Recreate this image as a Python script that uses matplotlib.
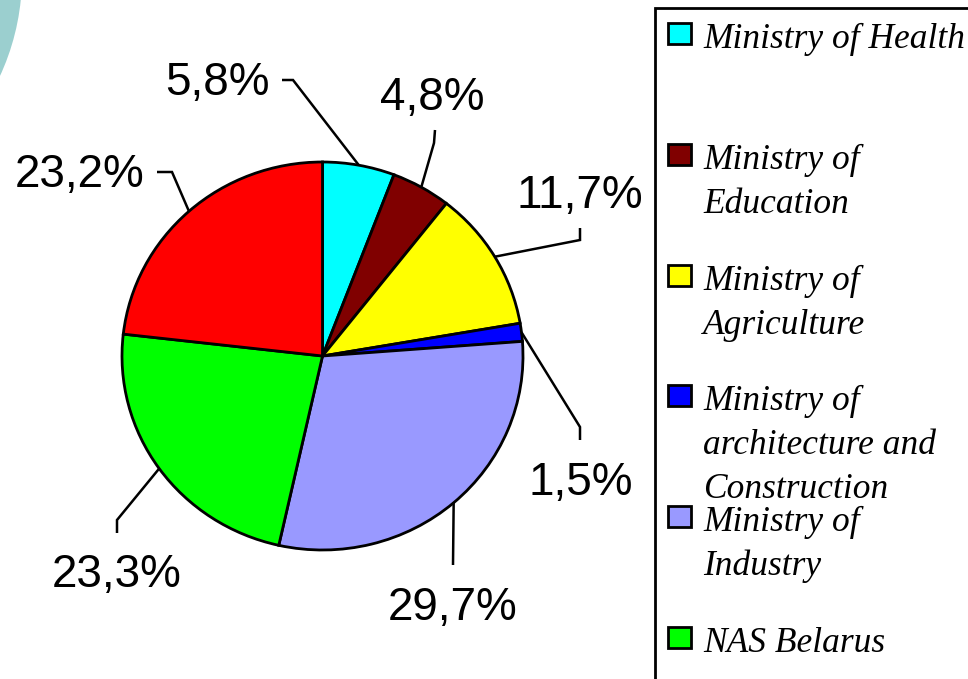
import matplotlib
matplotlib.use("Agg")
import matplotlib.pyplot as plt
import matplotlib.patches as mpatches
import numpy as np

# ---------------- data ----------------
categories = ["Ministry of Health", "Ministry of Education", "Ministry of Agriculture",
              "Ministry of architecture and Construction", "Ministry of Industry",
              "NAS Belarus", "Other"]
values = [5.8, 4.8, 11.7, 1.5, 29.7, 23.3, 23.2]
colors = ["#00FFFF", "#800000", "#FFFF00", "#0000FF", "#9999FF", "#00FF00", "#FF0000"]
legend_labels = ["Ministry of Health", "Ministry of\nEducation", "Ministry of\nAgriculture",
                 "Ministry of\narchitecture and\nConstruction", "Ministry of\nIndustry",
                 "NAS Belarus"]

# ---------------- layout (pixel coordinates) ----------------
W, H = 968, 679
CX, CY, RX, RY = 322.5, 356.0, 200.5, 194.0
# label text (center x, baseline y)
label_xy = [(217, 95), (432, 110), (580, 208), (581, 495), (453, 620), (117, 587), (80, 187)]
# leader line elbow and tail
elbow_xy = [(293, 80), (434, 143), (580, 240), (580, 427), (453, 565), (117, 520), (172, 172)]
tail_xy = [(282, 80), (435, 130), (580, 228), (580, 440), (453, 565), (117, 533), (157, 172)]

fig = plt.figure(figsize=(W / 100, H / 100), dpi=100)
ax = fig.add_axes([0, 0, 1, 1])


def to_data(px, py):
    return ((px - CX) / RX, (CY - py) / RY)


def to_fig(px, py):
    return (px / W, 1 - py / H)


# decorative teal circle at top-left
fig.patches.append(mpatches.Ellipse(to_fig(-216, -24), 2 * 238 / W, 2 * 238 / H,
                                    transform=fig.transFigure, facecolor="#9BCFCF",
                                    edgecolor="none", zorder=0))

wedges, _ = ax.pie(values, colors=colors, startangle=90, counterclock=False,
                   radius=1, frame=True,
                   wedgeprops=dict(edgecolor="black", linewidth=2.0))
ax.set_xlim((0 - CX) / RX, (W - CX) / RX)
ax.set_ylim((CY - H) / RY, CY / RY)
ax.set_aspect("auto")
ax.axis("off")
ax.patch.set_alpha(0)

label_font = dict(family=["Liberation Sans", "DejaVu Sans"], size=33)
for w, v, lxy, exy, txy in zip(wedges, values, label_xy, elbow_xy, tail_xy):
    mid = np.deg2rad((w.theta1 + w.theta2) / 2)
    x0, y0 = np.cos(mid), np.sin(mid)
    ex, ey = to_data(*exy)
    tx, ty = to_data(*txy)
    ax.plot([x0, ex, tx], [y0, ey, ty], color="black", lw=1.8,
            solid_joinstyle="miter", solid_capstyle="butt")
    lx, ly = to_data(*lxy)
    ax.text(lx, ly, f"{v:.1f}".replace(".", ",") + "%", ha="center", va="baseline",
            **label_font)

# legend box
fig.patches.append(mpatches.Rectangle(to_fig(655, 720), (1000 - 655) / W, (720 - 8) / H,
                                      transform=fig.transFigure, facecolor="white",
                                      edgecolor="black", linewidth=2.0, zorder=1))
leg_font = dict(family=["Liberation Serif", "DejaVu Serif"], style="italic", size=25.5)
for i, (lab, col) in enumerate(zip(legend_labels, colors)):
    base = 48 + 120.8 * i
    fig.patches.append(mpatches.Rectangle(to_fig(668, base - 4), 23 / W, 21 / H,
                                          transform=fig.transFigure, facecolor=col,
                                          edgecolor="black", linewidth=2.0, zorder=2))
    for j, line in enumerate(lab.split("\n")):
        fx, fy = to_fig(703, base + 44 * j)
        fig.text(fx, fy, line, ha="left", va="baseline", zorder=3, **leg_font)

fig.savefig("out.png", dpi=100)
